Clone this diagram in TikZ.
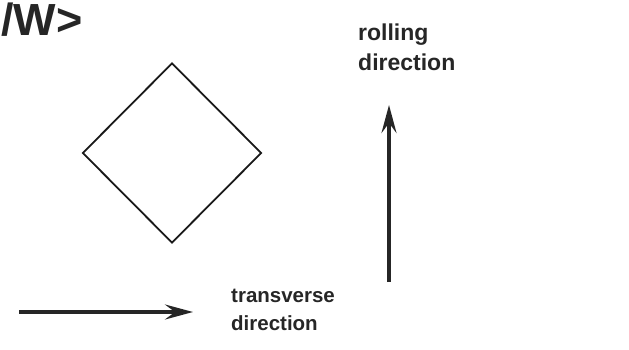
\documentclass[tikz,border=0pt]{standalone}
\usepackage{fontspec}
\setmainfont{Liberation Sans}
\usetikzlibrary{arrows.meta, positioning, shapes.geometric}

\begin{document}
\begin{tikzpicture}[x=1pt, y=-1pt,
	dirlabel/.style={align=left, anchor=north west, inner sep=0pt, text=black!85, font=\bfseries\fontsize{23}{30}\selectfont},
	dirarrow/.style={line width=3.5pt, draw=black!85, -{Stealth[length=28pt, width=15pt, inset=10pt]}}]
	
	% Rahmen
	\useasboundingbox (0,0) rectangle (629,350);
	
	% Titel oben links
	\node[anchor=north west, inner sep=0pt, text=black!85, font=\bfseries\fontsize{45}{45}\selectfont] (title) at (1,3) {/W>};
	
	% Korn (Quadrat auf der Spitze)
	\node[diamond, draw=black!90, line width=1.8pt, minimum width=179pt, minimum height=180pt, inner sep=0pt] (grain) at (172,153) {};
	
	% Walzrichtung
	\coordinate (rdstart) at (389,282);
	\coordinate (rdend) at (389,105);
	\draw[dirarrow] (rdstart) -- (rdend);
	\node[dirlabel] (rdlabel) at (358,24) {rolling\\direction};
	
	% Querrichtung
	\coordinate (tdstart) at (19,312);
	\coordinate (tdend) at (193,312);
	\draw[dirarrow] (tdstart) -- (tdend);
	\node[dirlabel, font=\bfseries\fontsize{20.5}{28}\selectfont] (tdlabel) at (231,289) {transverse\\direction};
	
\end{tikzpicture}
\end{document}
